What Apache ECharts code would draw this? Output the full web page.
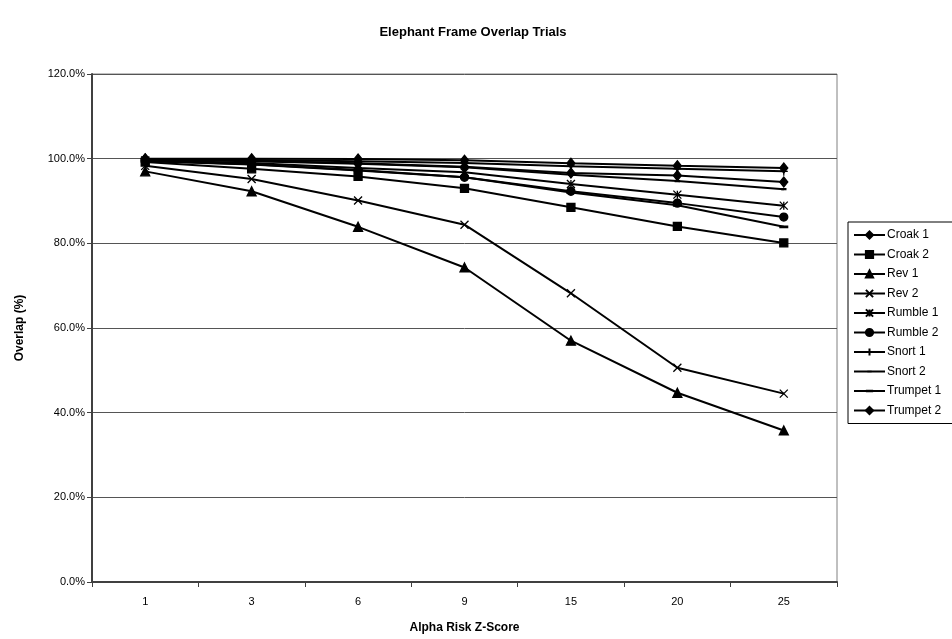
<!DOCTYPE html>
<html>
<head>
<meta charset="utf-8">
<script src="https://cdn.jsdelivr.net/npm/echarts@6/dist/echarts.min.js"></script>
<style>html,body{margin:0;padding:0;background:#fff;}#c{width:952px;height:639px;}</style>
</head>
<body>
<div id="c"></div>
<script>
var categories = ['1', '3', '6', '9', '15', '20', '25'];
var seriesNames = ['Croak 1', 'Croak 2', 'Rev 1', 'Rev 2', 'Rumble 1', 'Rumble 2', 'Snort 1', 'Snort 2', 'Trumpet 1', 'Trumpet 2'];
var croak1 = [100.0, 100.0, 99.9, 99.6, 98.9, 98.3, 97.8];
var croak2 = [99.2, 97.6, 95.8, 93.0, 88.5, 84.0, 80.1];
var rev1 = [97.0, 92.3, 83.9, 74.3, 57.0, 44.7, 35.8];
var rev2 = [98.3, 95.2, 90.1, 84.4, 68.2, 50.6, 44.5];
var rumble1 = [99.6, 99.0, 97.8, 96.8, 94.0, 91.5, 88.9];
var rumble2 = [99.5, 98.7, 97.3, 95.6, 92.3, 89.5, 86.2];
var snort1 = [99.9, 99.7, 99.4, 99.0, 98.2, 97.6, 97.0];
var snort2 = [99.8, 99.4, 98.8, 98.0, 96.2, 94.7, 92.8];
var trumpet1 = [99.4, 98.6, 97.2, 95.6, 92.0, 89.0, 83.9];
var trumpet2 = [99.9, 99.5, 98.9, 98.1, 96.6, 96.0, 94.5];
var yTicks = [0, 20, 40, 60, 80, 100, 120];

var allData = [croak1, croak2, rev1, rev2, rumble1, rumble2, snort1, snort2, trumpet1, trumpet2];
// square bounding boxes (tiny zero-area anchors) so dashes stay flat in the legend too
var anchors = 'M0,0L0.001,0L0,0.001Z M10,10L9.999,10L10,9.999Z ';
var symbols = [
  {s: 'diamond', size: [8, 10], bw: 1.3},
  {s: 'rect', size: 8, bw: 1.3},
  {s: 'triangle', size: 9, bw: 1.3},
  {s: 'path://M0,0L10,10M10,0L0,10', size: 8, bw: 1.3},
  {s: 'path://M0,0L10,10M10,0L0,10M5,0L5,10', size: 8, bw: 1.3},
  {s: 'circle', size: 8, bw: 1.3},
  {s: 'path://M5,0L5,10M0,5L10,5', size: [8, 9], bw: 1.3},
  {s: 'path://' + anchors + 'M2,3.8L8,3.8L8,6.2L2,6.2Z', size: 9, bw: 0},
  {s: 'path://' + anchors + 'M0,3.4L10,3.4L10,6.6L0,6.6Z', size: 9, bw: 0},
  {s: 'diamond', size: [8, 10], bw: 1.3}
];

var font = '"Liberation Sans", Arial, sans-serif';
var series = seriesNames.map(function (n, i) {
  return {
    name: n,
    type: 'line',
    data: allData[i],
    symbol: symbols[i].s,
    symbolSize: symbols[i].size,
    showAllSymbol: true,
    lineStyle: {color: '#000', width: 2},
    itemStyle: {color: '#000', borderColor: '#000', borderWidth: symbols[i].bw},
    emphasis: {disabled: true},
    animation: false
  };
});

var chart = echarts.init(document.getElementById('c'), null, {renderer: 'canvas'});
chart.setOption({
  backgroundColor: '#fff',
  animation: false,
  title: {
    text: 'Elephant Frame Overlap Trials',
    left: 468, top: 21, textAlign: 'center',
    textStyle: {fontFamily: font, fontSize: 13, fontWeight: 'bold', color: '#000'}
  },
  legend: {
    orient: 'vertical',
    left: 848, top: 222,
    padding: [6, 40, 6, 5],
    itemWidth: 31, itemHeight: 9, itemGap: 5.5,
    borderColor: '#000', borderWidth: 1,
    backgroundColor: '#fff',
    data: seriesNames,
    textStyle: {fontFamily: font, fontSize: 12, color: '#000', lineHeight: 14, padding: [0, 0, 0, -3]}
  },
  grid: {
    left: 92, right: 115, top: 74, bottom: 56,
    show: true, borderColor: '#808080', borderWidth: 1, backgroundColor: '#fff'
  },
  xAxis: {
    type: 'category',
    data: categories,
    boundaryGap: true,
    name: 'Alpha Risk Z-Score',
    nameLocation: 'middle',
    nameGap: 40,
    nameTextStyle: {fontFamily: font, fontSize: 12, fontWeight: 'bold', color: '#000'},
    axisLine: {lineStyle: {color: '#404040', width: 2}},
    axisTick: {show: true, length: 5, lineStyle: {color: '#404040', width: 1}},
    axisLabel: {fontFamily: font, fontSize: 11, color: '#000', margin: 14},
    splitLine: {show: false}
  },
  yAxis: {
    type: 'value',
    min: yTicks[0], max: yTicks[yTicks.length - 1], interval: 20,
    name: 'Overlap (%)',
    nameLocation: 'middle',
    nameGap: 66,
    nameRotate: 90,
    nameTextStyle: {fontFamily: font, fontSize: 12, fontWeight: 'bold', color: '#000'},
    axisLine: {show: true, lineStyle: {color: '#404040', width: 2}},
    axisTick: {show: true, length: 5, lineStyle: {color: '#404040', width: 1}},
    axisLabel: {fontFamily: font, fontSize: 11, color: '#000', margin: 7,
      formatter: function (v) { return v.toFixed(1) + '%'; }},
    splitLine: {show: true, lineStyle: {color: '#555', width: 1}}
  },
  series: series
});
</script>
</body>
</html>
